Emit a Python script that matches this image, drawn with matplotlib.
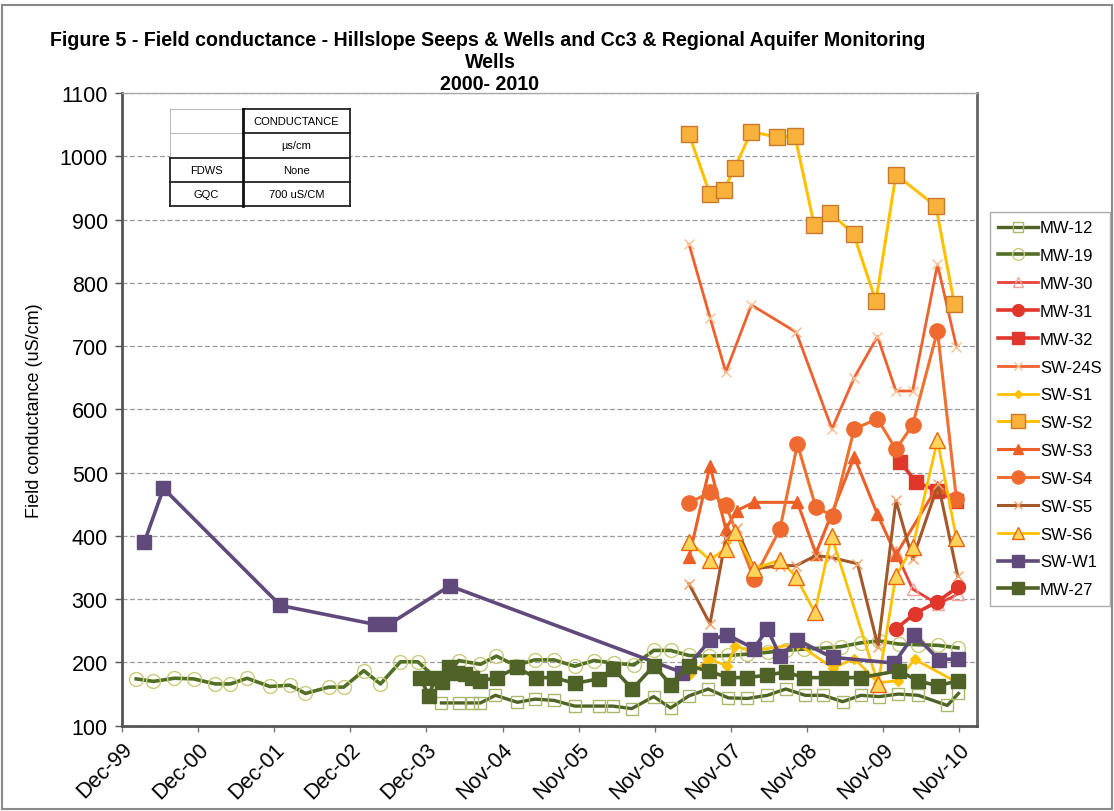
import matplotlib
matplotlib.use("Agg")
import matplotlib.pyplot as plt
import matplotlib.transforms as mtrans
from datetime import datetime, timedelta

# ---------------- data (decimal years, conductance uS/cm) ----------------
mw12_t = [2004.113, 2004.35, 2004.516, 2004.625, 2004.822, 2005.107, 2005.338, 2005.588, 2005.86,
          2006.179, 2006.359, 2006.608, 2006.897, 2007.12, 2007.357, 2007.613, 2007.875, 2008.127,
          2008.39, 2008.631, 2008.887, 2009.123, 2009.375, 2009.615, 2009.856, 2010.108, 2010.37,
          2010.749, 2010.896]
mw12_v = [136, 136, 136, 136, 148, 137, 142, 140, 131, 131, 131, 127, 146, 128, 147, 158, 144, 143,
          148, 158, 148, 148, 138, 148, 146, 150, 148, 132, 151]

mw19_t = [2000.108, 2000.335, 2000.607, 2000.86, 2001.145, 2001.342, 2001.561, 2001.858, 2002.121,
          2002.327, 2002.633, 2002.83, 2003.093, 2003.312, 2003.575, 2003.802, 2004.10, 2004.34,
          2004.625, 2004.835, 2005.085, 2005.334, 2005.588, 2005.86, 2006.113, 2006.372, 2006.638,
          2006.897, 2007.12, 2007.357, 2007.619, 2007.869, 2008.118, 2008.394, 2008.631, 2008.867,
          2009.156, 2009.353, 2009.615, 2009.853, 2010.114, 2010.364, 2010.626, 2010.889]
mw19_v = [174, 170, 175, 174, 166, 166, 175, 162, 164, 151, 161, 161, 187, 166, 201, 201, 169, 203,
          197, 210, 195, 204, 204, 194, 203, 199, 196, 219, 219, 211, 210, 211, 213, 216, 219, 221,
          223, 225, 231, 234, 229, 228, 227, 223]

mw30_t = [2010.075, 2010.294, 2010.626, 2010.885]
mw30_v = [374, 316, 292, 308]

mw31_t = [2010.075, 2010.32, 2010.62, 2010.885]
mw31_v = [253, 277, 296, 319]

mw32_t = [2010.13, 2010.34, 2010.62, 2010.86]
mw32_v = [517, 485, 471, 455]

sw24s_t = [2007.361, 2007.636, 2007.843, 2008.18, 2008.768, 2009.235, 2009.527, 2009.832, 2010.075,
           2010.294, 2010.62, 2010.869]
sw24s_v = [861, 745, 659, 765, 722, 569, 650, 715, 629, 629, 829, 699]

sws1_t = [2007.38, 2007.62, 2007.86, 2007.97, 2008.17, 2008.79, 2009.25, 2009.53, 2009.84, 2010.10,
          2010.32, 2010.885]
sws1_v = [181, 205, 195, 226, 218, 229, 191, 206, 168, 171, 205, 168]

sws2_t = [2007.361, 2007.636, 2007.82, 2007.961, 2008.18, 2008.521, 2008.753, 2009.002, 2009.212,
          2009.519, 2009.812, 2010.075, 2010.6, 2010.841]
sws2_v = [1035, 940, 947, 982, 1039, 1030, 1032, 891, 911, 877, 771, 971, 921, 767]

sws3_t = [2007.361, 2007.636, 2007.843, 2007.987, 2008.214, 2008.784, 2009.024, 2009.527, 2009.832,
          2010.075, 2010.62, 2010.869]
sws3_v = [366, 511, 411, 440, 453, 453, 372, 525, 434, 370, 478, 455]

sws4_t = [2007.361, 2007.636, 2007.843, 2008.214, 2008.556, 2008.784, 2009.024, 2009.244, 2009.527,
          2009.832, 2010.075, 2010.294, 2010.62, 2010.869]
sws4_v = [452, 469, 449, 332, 411, 545, 445, 432, 569, 585, 537, 575, 724, 458]

sws5_t = [2007.361, 2007.636, 2007.843, 2007.987, 2008.214, 2008.556, 2008.768, 2009.024, 2009.22,
          2009.57, 2009.84, 2010.075, 2010.294, 2010.63, 2010.885]
sws5_v = [324, 261, 396, 412, 348, 353, 353, 369, 366, 356, 225, 456, 363, 482, 337]

sws6_t = [2007.361, 2007.636, 2007.843, 2007.97, 2008.214, 2008.556, 2008.768, 2009.01, 2009.23,
          2009.84, 2010.075, 2010.294, 2010.62, 2010.869]
sws6_v = [391, 362, 380, 406, 348, 362, 335, 279, 400, 166, 337, 382, 551, 396]

sww1_t = [2000.217, 2000.466, 2001.999, 2003.246, 2003.421, 2004.222, 2007.274, 2007.636, 2007.856,
          2008.214, 2008.39, 2008.556, 2008.784, 2009.244, 2010.053, 2010.315, 2010.644, 2010.885]
sww1_v = [391, 475, 290, 260, 260, 321, 184, 235, 244, 222, 253, 210, 235, 208, 199, 244, 204, 206]

mw27_t = [2003.837, 2003.946, 2004.034, 2004.122, 2004.209, 2004.319, 2004.428, 2004.516, 2004.625,
          2004.844, 2005.098, 2005.347, 2005.588, 2005.86, 2006.179, 2006.368, 2006.617, 2006.901,
          2007.12, 2007.357, 2007.623, 2007.875, 2008.125, 2008.39, 2008.631, 2008.864, 2009.162,
          2009.353, 2009.615, 2010.114, 2010.36, 2010.626, 2010.885]
mw27_v = [176, 147, 176, 169, 192, 184, 182, 176, 171, 176, 192, 176, 176, 167, 174, 190, 158, 195,
          165, 195, 186, 176, 176, 180, 185, 176, 176, 176, 176, 187, 171, 163, 171]

tick_labels = ["Dec-99", "Dec-00", "Dec-01", "Dec-02", "Dec-03", "Nov-04", "Nov-05", "Nov-06",
               "Nov-07", "Nov-08", "Nov-09", "Nov-10"]

table_rows = [["", "CONDUCTANCE"], ["", "\u00b5s/cm"], ["FDWS", "None"], ["GQC", "700 uS/CM"]]


def yr2dt(y):
    yi = int(y)
    return datetime(yi, 1, 1) + timedelta(days=(y - yi) * 365.25)


def dts(ts):
    return [yr2dt(t) for t in ts]


# ---------------- figure ----------------
fig = plt.figure(figsize=(11.14, 8.12), dpi=100)
fig.patch.set_facecolor("white")
ax = fig.add_axes([121.7 / 1114, 1 - 726.7 / 812, (977 - 121.7) / 1114, (726.7 - 94) / 812])

series = [
    ("MW-12", mw12_t, mw12_v, dict(color="#4F6228", lw=2.4, marker="s", ms=9, mfc="none", mec="#A9B86A", mew=1.0)),
    ("MW-19", mw19_t, mw19_v, dict(color="#526F26", lw=2.6, marker="o", ms=10, mfc="none", mec="#C8CC7A", mew=1.0)),
    ("MW-30", mw30_t, mw30_v, dict(color="#E8423A", lw=2.0, marker="^", ms=9, mfc="none", mec="#F4A09A", mew=1.0)),
    ("MW-31", mw31_t, mw31_v, dict(color="#E0362C", lw=2.6, marker="o", ms=10, mfc="#E0362C", mec="#E0362C")),
    ("MW-32", mw32_t, mw32_v, dict(color="#E0362C", lw=2.6, marker="s", ms=10, mfc="#E0362C", mec="#E0362C")),
    ("SW-24S", sw24s_t, sw24s_v, dict(color="#F0602E", lw=2.0, marker="x", ms=7, mec="#F8C090", mew=1.0)),
    ("SW-S1", sws1_t, sws1_v, dict(color="#FFC000", lw=2.0, marker="D", ms=5, mfc="#FFC000", mec="#FFC000")),
    ("SW-S2", sws2_t, sws2_v, dict(color="#FFC000", lw=2.2, marker="s", ms=12, mfc="#F8B23C", mec="#C9782E", mew=1.0)),
    ("SW-S3", sws3_t, sws3_v, dict(color="#EC6028", lw=2.2, marker="^", ms=9, mfc="#EC6028", mec="#EC6028")),
    ("SW-S4", sws4_t, sws4_v, dict(color="#F0702E", lw=2.2, marker="o", ms=11, mfc="#EE6A2E", mec="#EE6A2E")),
    ("SW-S5", sws5_t, sws5_v, dict(color="#A4582A", lw=2.2, marker="x", ms=7, mec="#F3A066", mew=1.0)),
    ("SW-S6", sws6_t, sws6_v, dict(color="#FFC000", lw=2.0, marker="^", ms=11, mfc="#FFD45A", mec="#E8640E", mew=1.0)),
    ("SW-W1", sww1_t, sww1_v, dict(color="#604A7B", lw=2.6, marker="s", ms=10, mfc="#604A7B", mec="#604A7B")),
    ("MW-27", mw27_t, mw27_v, dict(color="#4F6228", lw=2.6, marker="s", ms=10, mfc="#4F6228", mec="#4F6228")),
]

for i, (name, t, v, kw) in enumerate(series):
    ax.plot(dts(t), v, label=name, zorder=3 + i * 0.1, **kw)

# axes
ax.set_ylim(100, 1100)
ax.set_yticks(range(100, 1101, 100))
start = datetime(1999, 12, 2)
ticks = [start + timedelta(days=365 * k) for k in range(len(tick_labels))]
ax.set_xlim(start, start + timedelta(days=365 * 11.23))
ax.set_xticks(ticks)
ax.set_xticklabels(tick_labels, rotation=45, ha="right", rotation_mode="anchor",
                   fontsize=15.5, family="Liberation Sans")
shift = mtrans.ScaledTranslation(-8 / 100, 0, fig.dpi_scale_trans)
for lab in ax.get_xticklabels():
    lab.set_transform(lab.get_transform() + shift)
for lab in ax.get_yticklabels():
    lab.set_fontsize(15.5)
    lab.set_family("Liberation Sans")
ax.tick_params(axis="y", length=5, width=1, pad=5, color="#555555")
ax.tick_params(axis="x", length=4, width=1, pad=5, color="#777777")
ax.yaxis.grid(True, linestyle=(0, (4, 2)), color="#9a9a9a", linewidth=0.9)
ax.set_axisbelow(True)
for s in ["left", "bottom"]:
    ax.spines[s].set_color("#555555")
    ax.spines[s].set_linewidth(2.0)
ax.spines["right"].set_color("#666666")
ax.spines["right"].set_linewidth(2.0)
ax.spines["top"].set_color("#aaaaaa")
ax.spines["top"].set_linewidth(1.0)
ax.set_ylabel("Field conductance (uS/cm)", fontsize=13, family="Liberation Sans", labelpad=12)

# inset table (axes coords)
x0, x1, xm = 0.0565, 0.267, 0.1418
ys = [0.9747, 0.9368, 0.8973, 0.8593, 0.8214]
tr = ax.transAxes
ax.add_patch(plt.Rectangle((x0, ys[-1]), x1 - x0, ys[0] - ys[-1], transform=tr,
                           facecolor="white", edgecolor="none", zorder=10))
light = dict(color="#bbbbbb", lw=0.8, transform=tr, zorder=11)
dark = dict(color="#222222", lw=1.3, transform=tr, zorder=12)
ax.plot([x0, xm], [ys[0], ys[0]], **light)
ax.plot([x0, xm], [ys[1], ys[1]], **light)
ax.plot([x0, x0], [ys[0], ys[2]], **light)
ax.plot([xm, x1], [ys[0], ys[0]], **dark)
ax.plot([xm, x1], [ys[1], ys[1]], **dark)
for yy in ys[2:]:
    ax.plot([x0, x1], [yy, yy], **dark)
ax.plot([xm, xm], [ys[0], ys[-1]], color="#111111", lw=2.0, transform=tr, zorder=12)
ax.plot([x1, x1], [ys[0], ys[-1]], **dark)
ax.plot([x0, x0], [ys[2], ys[-1]], **dark)
for r, (c1, c2) in enumerate(table_rows):
    yc = (ys[r] + ys[r + 1]) / 2
    ax.text((x0 + xm) / 2, yc, c1, transform=tr, ha="center", va="center", fontsize=8,
            family="Liberation Sans", zorder=13)
    ax.text((xm + x1) / 2, yc, c2, transform=tr, ha="center", va="center", fontsize=8,
            family="Liberation Sans", zorder=13)

# title
tfam = ["Liberation Sans"]
fig.text(488 / 1114, 1 - 40 / 812,
         "Figure 5 - Field conductance - Hillslope Seeps & Wells and Cc3 & Regional Aquifer Monitoring",
         ha="center", va="center", fontsize=14.1, fontweight="bold", family=tfam)
fig.text(490 / 1114, 1 - 62 / 812, "Wells", ha="center", va="center", fontsize=14.1,
         fontweight="bold", family=tfam)
fig.text(490 / 1114, 1 - 84 / 812, "2000- 2010", ha="center", va="center", fontsize=14.1,
         fontweight="bold", family=tfam)

# legend
leg = fig.legend(loc="upper left", bbox_to_anchor=(990 / 1114, 1 - 213 / 812), frameon=True,
                 fancybox=False, prop={"family": "Liberation Sans", "size": 12},
                 handlelength=2.4, handletextpad=0.1, labelspacing=0.77, borderpad=0.5,
                 borderaxespad=0.0, markerscale=0.85)
leg.get_frame().set_edgecolor("#999999")
leg.get_frame().set_linewidth(1.0)

# outer frame
fig.patches.append(plt.Rectangle((0.002, 0.002), 0.996, 0.990, transform=fig.transFigure,
                                 fill=False, edgecolor="#8a8a8a", lw=1.5))

fig.savefig("out.png", dpi=100, facecolor="white")
